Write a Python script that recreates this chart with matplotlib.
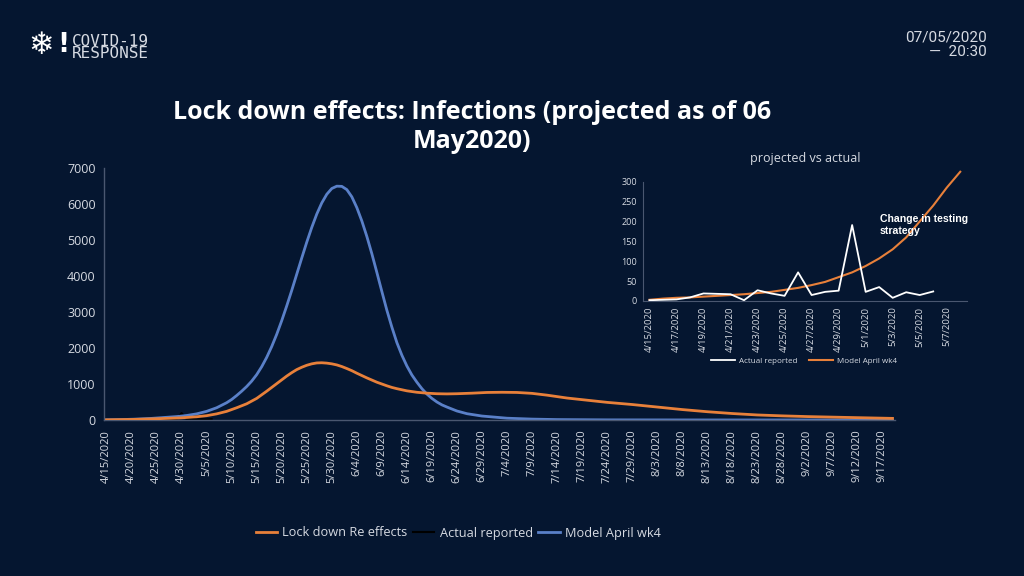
import numpy as np
import pandas as pd
import matplotlib
matplotlib.use("Agg")
import matplotlib.pyplot as plt

# ---- main chart data (day offsets from 4/15/2020)
start = pd.Timestamp("2020-04-15")

model_days = [0, 3, 6, 9, 12, 14, 16, 18, 20, 22, 24, 25, 26, 27, 28, 29, 30, 31, 32, 33, 34,
              35, 36, 37, 38, 39, 40, 41, 42, 43, 44, 45, 46, 47, 48, 49, 50, 51, 52, 53, 54,
              55, 56, 57, 58, 59, 60, 61, 62, 63, 64, 65, 66, 67, 68, 70, 72, 75, 80, 85, 90,
              100, 120, 157]
model_vals = [5, 12, 25, 45, 75, 95, 125, 170, 240, 340, 480, 570, 680, 800, 930, 1080,
              1260, 1480, 1740, 2040, 2380, 2760, 3170, 3600, 4050, 4500, 4940, 5350, 5720,
              6030, 6270, 6430, 6495, 6490, 6400, 6200, 5900, 5530, 5100, 4620, 4100, 3570,
              3050, 2580, 2150, 1800, 1500, 1250, 1050, 870, 720, 600, 500, 420, 360, 250, 175,
              110, 50, 25, 12, 4, 1, 0]

lock_days = [0, 5, 10, 15, 18, 20, 22, 24, 26, 28, 30, 31, 32, 33, 34, 35, 36, 37, 38, 39,
             40, 41, 42, 43, 44, 45, 46, 47, 48, 49, 50, 51, 52, 53, 54, 55, 56, 57, 58, 59,
             60, 62, 64, 66, 68, 70, 73, 76, 79, 82, 85, 88, 92, 96, 100, 105, 110, 115, 120,
             125, 130, 135, 140, 145, 150, 157]
lock_vals = [5, 15, 35, 60, 90, 120, 170, 240, 340, 450, 600, 700, 800, 905, 1010, 1115,
             1220, 1315, 1400, 1465, 1520, 1560, 1585, 1590, 1580, 1560, 1530, 1485, 1430,
             1370, 1300, 1235, 1170, 1110, 1050, 1000, 950, 905, 870, 840, 810, 770, 745, 730,
             725, 730, 745, 765, 770, 765, 740, 690, 610, 550, 490, 430, 360, 290, 230, 180,
             140, 115, 95, 80, 65, 45]

# ---- inset data (daily from 4/15/2020)
actual_vals = [2, 3, 4, 9, 19, 18, 17, 2, 27, 19, 13, 72, 15, 23, 26, 191, 23, 35, 8, 22, 15, 24]
model_wk4_vals = [3, 6, 8, 9, 11, 13, 15, 17, 20, 23, 28, 33, 40, 48, 60, 72, 88, 107, 130,
                  160, 200, 240, 285, 325]

bg = "#051630"
orange = "#e8803a"
blue = "#5a80c8"
txt = "#d6dae2"
spine = "#4a5770"

plt.rcParams["font.family"] = ["Open Sans", "DejaVu Sans"]

fig = plt.figure(figsize=(10.24, 5.76), dpi=100, facecolor=bg)

# ---- main axes
ax = fig.add_axes([104 / 1024, 1 - 420 / 576, (895 - 104) / 1024, (420 - 168) / 576])
ax.set_facecolor(bg)
ax.plot(range(len(actual_vals)), actual_vals, color="black", lw=1.5, zorder=1)
ax.plot(model_days, model_vals, color=blue, lw=2, zorder=2)
ax.plot(lock_days, lock_vals, color=orange, lw=2, zorder=3)
ax.set_xlim(-0.5, 157.5)
ax.set_ylim(0, 7000)
ax.set_yticks(range(0, 7001, 1000))
ticks = list(range(0, 156, 5))
ax.set_xticks(ticks)
ax.set_xticklabels([f"{d.month}/{d.day}/{d.year}" for d in (start + pd.Timedelta(days=t) for t in ticks)],
                   rotation=90)
ax.tick_params(length=0, colors=txt, labelsize=9, pad=6)
ax.tick_params(axis="x", labelsize=8, pad=7)
for s in ["top", "right"]:
    ax.spines[s].set_visible(False)
for s in ["left", "bottom"]:
    ax.spines[s].set_color(spine)
    ax.spines[s].set_linewidth(1)

h_or = plt.Line2D([], [], color=orange, lw=2)
h_bk = plt.Line2D([], [], color="black", lw=1.5)
h_bl = plt.Line2D([], [], color=blue, lw=2)
ax.legend([h_or, h_bk, h_bl], ["Lock down Re effects", "Actual reported", "Model April wk4"],
          loc="center", bbox_to_anchor=(458 / 1024, 1 - 533 / 576), bbox_transform=fig.transFigure,
          ncol=3, frameon=False, fontsize=9.2, labelcolor=txt, handlelength=1.7,
          handletextpad=0.4, columnspacing=0.4)

# ---- inset axes
ai = fig.add_axes([642.7 / 1024, 1 - 301 / 576, (967 - 642.7) / 1024, (301 - 181.7) / 576])
ai.set_facecolor("none")
ai.plot(range(len(actual_vals)), actual_vals, color="white", lw=1.3, label="Actual reported", zorder=3)
ai.plot(range(len(model_wk4_vals)), model_wk4_vals, color=orange, lw=1.5, label="Model April wk4",
        clip_on=False, zorder=2)
ai.set_xlim(-0.5, 23.5)
ai.set_ylim(0, 300)
ai.set_yticks(range(0, 301, 50))
iticks = list(range(0, 23, 2))
ai.set_xticks(iticks)
ai.set_xticklabels([f"{d.month}/{d.day}/{d.year}" for d in (start + pd.Timedelta(days=t) for t in iticks)],
                   rotation=90)
ai.tick_params(length=0, colors=txt, labelsize=6.8, pad=4)
ai.tick_params(axis="y", labelsize=6.5)
for s in ["top", "right"]:
    ai.spines[s].set_visible(False)
for s in ["left", "bottom"]:
    ai.spines[s].set_color(spine)
    ai.spines[s].set_linewidth(0.8)
ai.set_title("projected vs actual", color=txt, fontsize=9, pad=14)
ai.text(880 / 1024, 1 - 225 / 576, "Change in testing\nstrategy", transform=fig.transFigure,
        color="white", fontsize=7.6, fontweight="bold", family="Liberation Sans", va="center",
        linespacing=1.35)
ai.legend(loc="center", bbox_to_anchor=(804 / 1024, 1 - 361 / 576), bbox_transform=fig.transFigure,
          ncol=2, frameon=False, fontsize=5.8, labelcolor=txt, handlelength=3.0,
          handletextpad=0.5, columnspacing=1.4)

# ---- titles and header
fig.text(472 / 1024, 1 - 127 / 576, "Lock down effects: Infections (projected as of 06\nMay2020)",
         ha="center", va="center", color="white", fontsize=18, fontweight="bold", linespacing=1.25)

fig.text(28 / 1024, 1 - 45 / 576, "\u2744", color="white", fontsize=22, va="center", family="DejaVu Sans")
fig.text(57 / 1024, 1 - 45 / 576, "!", color="white", fontsize=19, va="center", fontweight="bold",
         family="DejaVu Sans")
fig.text(72 / 1024, 1 - 41 / 576, "COVID-19", color=txt, fontsize=11.5, va="center", family="DejaVu Sans Mono")
fig.text(72 / 1024, 1 - 54 / 576, "RESPONSE", color=txt, fontsize=11.5, va="center", family="DejaVu Sans Mono")

fig.text(987 / 1024, 1 - 37 / 576, "07/05/2020", color=txt, fontsize=11, ha="right", va="center",
         family="Roboto")
fig.text(987 / 1024, 1 - 52 / 576, "\u2014  20:30", color=txt, fontsize=11, ha="right", va="center",
         family="Roboto")

fig.savefig("out.png", dpi=100, facecolor=bg)
